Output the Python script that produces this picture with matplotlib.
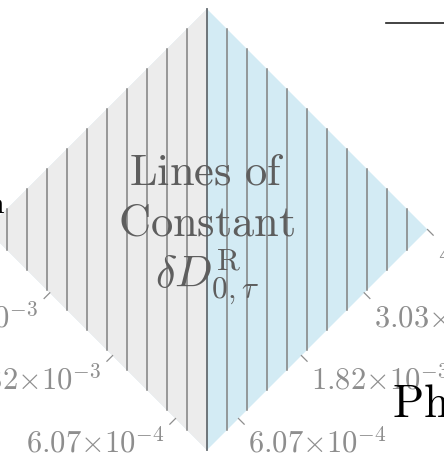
import numpy as np
import matplotlib
matplotlib.use('Agg')
import matplotlib.pyplot as plt
from matplotlib.transforms import Affine2D

plt.rcParams.update({"mathtext.fontset": "cm"})
plt.rcParams.update({"font.family": "serif"})

#==============================================================================
# DATA
#==============================================================================
d_max = 4.25e-3                              # range of both diamond axes
n_lines = 10                                 # constant-dD lines on each side
tick_vals = [6.07e-4, 1.82e-3, 3.03e-3, 4.25e-3]
tick_labels = [r'$6.07{\times}10^{-4}$', r'$1.82{\times}10^{-3}$',
               r'$3.03{\times}10^{-3}$', r'$4.25{\times}10^{-3}$']
title_lines = [r'$\mathrm{Lines\ of}$', r'$\mathrm{Constant}$',
               r'$\delta D^{\mathrm{R}}_{0,\tau}$']

col_left = '#ececec'
col_right = '#d3ebf4'
col_line = '#808080'
col_mid = '#646b70'
col_tick = '#8e8e8e'

#==============================================================================
# Figure / axes, scale chosen so the diamond lands where it does in the crop
#==============================================================================
W, H = 444, 466
fig = plt.figure(figsize=(W/100, H/100), dpi=100)
ax = fig.add_axes([0, 0, 1, 1])
ax.axis('off')

half = d_max/np.sqrt(2)
k = 220.5/half                               # px per data unit
x0, y0 = 207, 16                             # bottom vertex (px from left / bottom)
ax.set_xlim(-x0/k, (W - x0)/k)
ax.set_ylim(-y0/k, (H - y0)/k)

# (u, v) -> rotated by 45 deg, u up-right, v up-left
tr = Affine2D().rotate_deg(45) + ax.transData

# two halves of the square
ax.fill([0, d_max, d_max, 0], [0, 0, d_max, d_max], color=col_right,
        transform=tr, lw=0, zorder=1)
ax.fill([0, d_max, 0], [0, d_max, d_max], color=col_left,
        transform=tr, lw=0, zorder=1)

# lines of constant u - v
step = d_max/(n_lines + 1)
for j in range(-n_lines, n_lines + 1):
    d = j*step
    u = [max(d, 0), min(d_max, d_max + d)]
    v = [max(-d, 0), min(d_max, d_max - d)]
    if j == 0:
        ax.plot(u, v, color=col_mid, lw=1.3, transform=tr, zorder=3)
    else:
        ax.plot(u, v, color=col_line, lw=1.1, transform=tr, zorder=2)

# ticks on both lower edges
dt = 8/k
for t, lab in zip(tick_vals, tick_labels):
    ax.plot([t, t], [0, -dt], color=col_tick, lw=0.9, transform=tr,
            clip_on=False)
    ax.plot([0, -dt], [t, t], color=col_tick, lw=0.9, transform=tr,
            clip_on=False)
    xr, yr = t/np.sqrt(2), t/np.sqrt(2)
    ax.annotate(lab, xy=(xr, yr), xytext=(10, -34), textcoords='offset pixels',
                ha='left', va='baseline', fontsize=22, color=col_tick)
    ax.annotate(lab, xy=(-xr, yr), xytext=(-11, -34), textcoords='offset pixels',
                ha='right', va='baseline', fontsize=22, color=col_tick)

# centre text
for txt, yb in zip(title_lines, [185, 235, 287]):
    fig.text(x0/W, 1 - yb/H, txt, ha='center', va='baseline',
             fontsize=32, color='#5e5e5e', zorder=5)

# bits of neighbouring elements visible in the crop
fig.text(392/W, 1 - 417/H, r'$\mathrm{Ph}$', ha='left', va='baseline',
         fontsize=33, color='k')
fig.text(5/W, 1 - 213/H, r'$\mathrm{n}$', ha='right', va='baseline',
         fontsize=20, color='k')
fig.add_artist(plt.Line2D([386/W, 1], [1 - 23/H, 1 - 23/H],
                          color='#222222', lw=1.2, transform=fig.transFigure))

fig.savefig('out.png', dpi=100)
